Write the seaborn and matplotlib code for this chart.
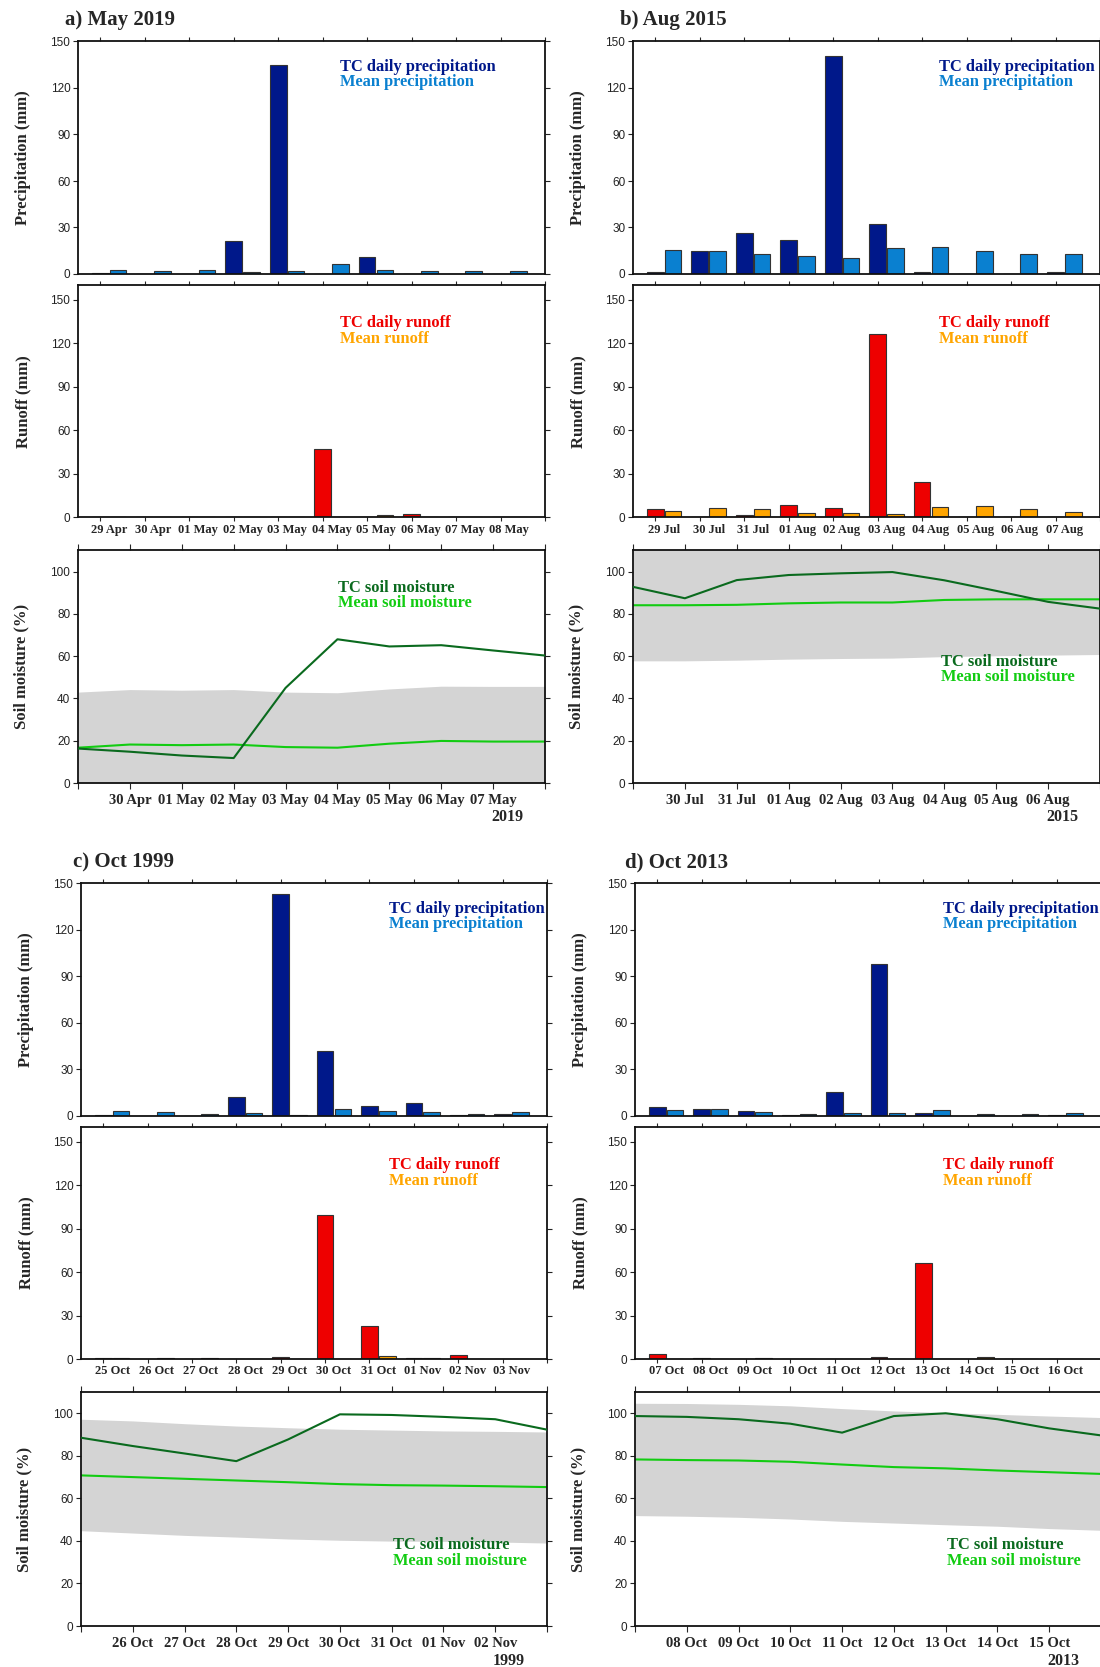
import numpy as np
import pandas as pd
import matplotlib
matplotlib.use("Agg")
import matplotlib.pyplot as plt
import seaborn as sns

sns.set_style("ticks")
plt.rcParams["font.family"] = ["Liberation Sans", "DejaVu Sans"]

# ---------------- data ----------------
a_dates = ["29 Apr", "30 Apr", "01 May", "02 May", "03 May", "04 May", "05 May", "06 May", "07 May", "08 May"]
a_prec_tc = [0.4, 0, 0, 21.3, 135, 0, 10.8, 0, 0, 0]
a_prec_mean = [2.4, 2.0, 2.4, 1.2, 2.0, 6.5, 2.6, 2.0, 2.0, 2.0]
a_run_tc = [0, 0, 0, 0, 0, 47.3, 0, 2.3, 0, 0]
a_run_mean = [0, 0, 0, 0, 0, 0, 1.6, 0, 0, 0]
a_soil_tc = [16.3, 14.8, 13.0, 11.8, 45.0, 68.0, 64.6, 65.2, 62.7, 60.3]
a_soil_mean = [16.7, 18.2, 17.9, 18.2, 17.0, 16.7, 18.6, 19.9, 19.6, 19.6]
a_soil_lo = [0, 0, 0, 0, 0, 0, 0, 0, 0, 0]
a_soil_hi = [43.0, 44.2, 43.9, 44.2, 43.0, 42.7, 44.5, 45.8, 45.7, 45.7]

b_dates = ["29 Jul", "30 Jul", "31 Jul", "01 Aug", "02 Aug", "03 Aug", "04 Aug", "05 Aug", "06 Aug", "07 Aug"]
b_prec_tc = [1.5, 15.0, 26.3, 22.0, 140.7, 32.3, 1.5, 0, 0.3, 1.3]
b_prec_mean = [15.5, 14.6, 12.7, 11.8, 10.5, 16.8, 17.4, 14.8, 12.7, 12.7]
b_run_tc = [6.0, 0, 1.8, 8.7, 6.4, 126.3, 24.6, 0, 0, 0]
b_run_mean = [4.6, 6.4, 5.7, 3.4, 3.2, 2.3, 6.9, 7.6, 6.0, 3.9]
b_soil_tc = [92.8, 87.4, 96.0, 98.4, 99.2, 99.8, 95.9, 90.9, 85.7, 82.5]
b_soil_mean = [84.1, 84.1, 84.3, 85.0, 85.4, 85.4, 86.6, 86.9, 86.9, 86.9]
b_soil_lo = [57.8, 57.8, 58.1, 58.6, 58.9, 59.1, 59.8, 60.2, 60.5, 60.8]
b_soil_hi = [115, 115, 115, 115, 115, 115, 115, 115, 115, 115]

c_dates = ["25 Oct", "26 Oct", "27 Oct", "28 Oct", "29 Oct", "30 Oct", "31 Oct", "01 Nov", "02 Nov", "03 Nov"]
c_prec_tc = [0.6, 0, 0, 12.5, 143.1, 41.7, 6.7, 8.2, 0.6, 1.1]
c_prec_mean = [3.2, 2.6, 1.1, 1.9, 0.9, 4.7, 3.2, 2.4, 1.3, 2.6]
c_run_tc = [0.7, 0, 0, 0, 1.4, 99.0, 23.0, 0.6, 2.8, 0]
c_run_mean = [0.7, 0.6, 0.6, 0, 0, 0, 2.3, 0.6, 0, 0]
c_soil_tc = [88.5, 84.6, 81.1, 77.5, 87.7, 99.5, 99.2, 98.3, 97.2, 92.3]
c_soil_mean = [70.8, 70.0, 69.2, 68.4, 67.6, 66.7, 66.2, 66.0, 65.7, 65.3]
c_soil_lo = [44.8, 43.7, 42.6, 41.8, 40.9, 40.3, 39.9, 39.8, 39.5, 39.0]
c_soil_hi = [97.2, 96.4, 95.1, 94.0, 93.2, 92.5, 92.1, 91.7, 91.5, 91.2]

d_dates = ["07 Oct", "08 Oct", "09 Oct", "10 Oct", "11 Oct", "12 Oct", "13 Oct", "14 Oct", "15 Oct", "16 Oct"]
d_prec_tc = [6.0, 4.7, 3.2, 0.4, 15.7, 97.8, 2.1, 0.3, 0.3, 0.5]
d_prec_mean = [3.9, 4.3, 2.4, 1.1, 1.7, 2.1, 3.9, 1.1, 1.1, 1.7]
d_run_tc = [3.7, 0.6, 0, 0, 0, 1.4, 66.0, 0, 0, 0]
d_run_mean = [0, 0, 0.6, 0, 0, 0, 0, 1.4, 0, 0]
d_soil_tc = [98.7, 98.3, 97.2, 95.1, 90.9, 98.7, 100.0, 97.2, 92.9, 89.6]
d_soil_mean = [78.3, 78.0, 77.8, 77.2, 75.9, 74.7, 74.1, 73.1, 72.3, 71.5]
d_soil_lo = [51.9, 51.6, 51.1, 50.3, 49.2, 48.4, 47.6, 46.9, 45.8, 45.0]
d_soil_hi = [104.7, 104.6, 104.2, 103.5, 102.2, 101.1, 100.3, 99.5, 98.7, 98.0]

titles = ["a) May 2019", "b) Aug 2015", "c) Oct 1999", "d) Oct 2013"]
years = ["2019", "2015", "1999", "2013"]

# ---------------- style ----------------
C_PREC_TC, C_PREC_MEAN = "#00188a", "#0a80d0"
C_RUN_TC, C_RUN_MEAN = "#ee0000", "#ffa500"
C_SOIL_TC, C_SOIL_MEAN = "#0a6a1e", "#12cc12"
C_BAND = "#d4d4d4"
SERIF = ["Liberation Serif", "DejaVu Serif"]
SANS = ["Liberation Sans", "DejaVu Sans"]

W, H = 1100, 1667
fig = plt.figure(figsize=(W / 100, H / 100), dpi=100)


def rect(l, t, r, b):
    return [l / W, 1 - b / H, (r - l) / W, (b - t) / H]


def style_axis(ax):
    for s in ax.spines.values():
        s.set_linewidth(1.3)
        s.set_color("#111111")
        s.set_visible(True)
    ax.tick_params(axis="y", which="major", direction="out", length=3.5, width=0.8,
                   left=True, right=True, labelleft=True, labelright=False,
                   labelsize=8.5, colors="#222222", pad=2)
    for lab in ax.get_yticklabels():
        lab.set_family(SANS)


def legend_text(ax, x, y, t1, c1, t2, c2):
    ax.text(x, y, t1, transform=ax.transAxes, color=c1, fontsize=11.8, fontweight="bold",
            family=SERIF, va="center", ha="left")
    ax.text(x, y - 0.066, t2, transform=ax.transAxes, color=c2, fontsize=11.8, fontweight="bold",
            family=SERIF, va="center", ha="left")


def bar_panel(ax, dates, tc, mean, colors, ylim, show_xlabels, ylabel, leg, leg_pos):
    n = len(dates)
    df = pd.DataFrame({"date": list(dates) * 2,
                       "value": list(tc) + list(mean),
                       "series": ["TC"] * n + ["Mean"] * n})
    sns.barplot(data=df, x="date", y="value", hue="series", order=dates,
                hue_order=["TC", "Mean"], palette=colors, saturation=1,
                edgecolor="#333333", linewidth=0.8, gap=0.06, legend=False, ax=ax)
    ax.set_xlim(-0.7, 9.8)
    ax.set_ylim(*ylim)
    ax.set_yticks([0, 30, 60, 90, 120, 150])
    ax.set_xticks(np.arange(n))
    ax.set_xticks(np.arange(n + 1) - 0.2, minor=True)
    ax.tick_params(axis="x", which="major", length=0, pad=4.5,
                   labelbottom=show_xlabels)
    ax.tick_params(axis="x", which="minor", direction="out", length=3, width=0.8,
                   top=True, bottom=show_xlabels)
    if show_xlabels:
        ax.set_xticklabels(dates, fontsize=9, fontweight="bold", family=SERIF)
    ax.set_xlabel("")
    ax.set_ylabel(ylabel, fontsize=12, fontweight="bold", family=SERIF)
    ax.yaxis.set_label_coords(-0.10, 0.5)
    style_axis(ax)
    legend_text(ax, leg_pos[0], leg_pos[1], leg[0], colors[0], leg[1], colors[1])


def soil_panel(ax, dates, tc, mean, lo, hi, year, leg_pos):
    x = np.arange(len(dates))
    ax.fill_between(x, lo, hi, color=C_BAND, lw=0, zorder=1)
    sns.lineplot(x=x, y=tc, color=C_SOIL_TC, lw=1.5, ax=ax, zorder=3)
    sns.lineplot(x=x, y=mean, color=C_SOIL_MEAN, lw=1.5, ax=ax, zorder=2)
    ax.set_xlim(0, len(dates) - 1)
    ax.set_ylim(0, 110)
    ax.set_yticks([0, 20, 40, 60, 80, 100])
    ax.set_xticks(x)
    ax.set_xticklabels([""] + list(dates[1:-1]) + [""], fontsize=10.5, fontweight="bold", family=SERIF)
    ax.tick_params(axis="x", which="major", direction="out", length=4, width=0.8,
                   top=True, bottom=True, pad=4)
    ax.set_xlabel("")
    ax.set_ylabel("Soil moisture (%)", fontsize=12, fontweight="bold", family=SERIF)
    ax.yaxis.set_label_coords(-0.105, 0.5)
    style_axis(ax)
    ax.text(0.953, -0.148, year, transform=ax.transAxes, ha="right", va="center",
            fontsize=11.5, fontweight="bold", family=SERIF)
    legend_text(ax, leg_pos[0], leg_pos[1], "TC soil moisture", C_SOIL_TC,
                "Mean soil moisture", C_SOIL_MEAN)


panels = [
    dict(dates=a_dates, p=(a_prec_tc, a_prec_mean), r=(a_run_tc, a_run_mean),
         s=(a_soil_tc, a_soil_mean, a_soil_lo, a_soil_hi),
         lr=(78, 545), rows=[(41.5, 274), (285, 517.5), (550.5, 783)],
         title_xy=(65, 20), leg_x=0.561, soil_leg=(0.557, 0.84)),
    dict(dates=b_dates, p=(b_prec_tc, b_prec_mean), r=(b_run_tc, b_run_mean),
         s=(b_soil_tc, b_soil_mean, b_soil_lo, b_soil_hi),
         lr=(633, 1100), rows=[(41.5, 274), (285, 517.5), (550.5, 783)],
         title_xy=(620, 20), leg_x=0.656, soil_leg=(0.66, 0.52)),
    dict(dates=c_dates, p=(c_prec_tc, c_prec_mean), r=(c_run_tc, c_run_mean),
         s=(c_soil_tc, c_soil_mean, c_soil_lo, c_soil_hi),
         lr=(81, 547), rows=[(883, 1116), (1127, 1359), (1392, 1626)],
         title_xy=(73, 862), leg_x=0.66, soil_leg=(0.67, 0.345)),
    dict(dates=d_dates, p=(d_prec_tc, d_prec_mean), r=(d_run_tc, d_run_mean),
         s=(d_soil_tc, d_soil_mean, d_soil_lo, d_soil_hi),
         lr=(635, 1101), rows=[(883, 1116), (1127, 1359), (1392, 1626)],
         title_xy=(625, 862), leg_x=0.66, soil_leg=(0.67, 0.345)),
]

for i, P in enumerate(panels):
    l, r = P["lr"]
    ax1 = fig.add_axes(rect(l, P["rows"][0][0], r, P["rows"][0][1]))
    bar_panel(ax1, P["dates"], P["p"][0], P["p"][1], [C_PREC_TC, C_PREC_MEAN], (0, 150),
              False, "Precipitation (mm)", ("TC daily precipitation", "Mean precipitation"),
              (P["leg_x"], 0.89))
    ax2 = fig.add_axes(rect(l, P["rows"][1][0], r, P["rows"][1][1]))
    bar_panel(ax2, P["dates"], P["r"][0], P["r"][1], [C_RUN_TC, C_RUN_MEAN], (0, 160),
              True, "Runoff (mm)", ("TC daily runoff", "Mean runoff"),
              (P["leg_x"], 0.835))
    ax3 = fig.add_axes(rect(l, P["rows"][2][0], r, P["rows"][2][1]))
    soil_panel(ax3, P["dates"], *P["s"], years[i], P["soil_leg"])
    tx, ty = P["title_xy"]
    fig.text(tx / W, 1 - ty / H, titles[i], fontsize=15, fontweight="bold",
             family=SERIF, ha="left", va="center")

fig.savefig("out.png", dpi=100)
